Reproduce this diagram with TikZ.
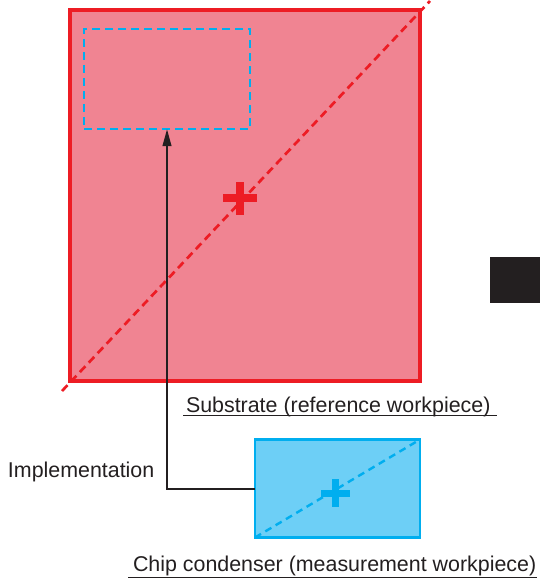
\documentclass[tikz,border=0pt]{standalone}
\usepackage{fontspec}
\setmainfont{Liberation Sans}
\usetikzlibrary{arrows.meta}
\definecolor{redline}{HTML}{ED1C24}
\definecolor{redfill}{HTML}{F08492}
\definecolor{blueline}{HTML}{00AEEF}
\definecolor{bluefill}{HTML}{6DCFF6}
\definecolor{ink}{HTML}{231F20}
\tikzset{
  box/.style={rectangle, inner sep=0pt, outer sep=0pt},
  label text/.style={inner sep=0pt, outer sep=0pt, text=ink, font=\fontsize{21.4}{25}\selectfont},
  underline/.style={draw=ink, line width=1.3pt},
  plusmark/.style={line width=#1, line cap=butt},
}
\begin{document}
\begin{tikzpicture}[x=1pt,y=-1pt]
\useasboundingbox (0,0) rectangle (539,583);
% substrate
\node[box, draw=redline, fill=redfill, line width=4pt, minimum width=350pt, minimum height=371pt] (sub) at (245,195.5) {};
\coordinate (dA) at (62,391);
\coordinate (dB) at (430,1);
\draw[redline, line width=2.7pt, dash pattern=on 8pt off 5pt] (dA) -- (dB);
\draw[redline, plusmark=8pt] (223,198) -- (257,198);
\draw[redline, plusmark=8pt] (240,182) -- (240,215);
% target footprint
\node[box, draw=blueline, line width=2.8pt, dash pattern=on 8pt off 5pt, minimum width=166pt, minimum height=100pt] (tgt) at (167,79) {};
% chip
\node[box, draw=blueline, fill=bluefill, line width=2.2pt, minimum width=165pt, minimum height=98pt] (chip) at (337.5,488.5) {};
\draw[blueline, line width=2.4pt, dash pattern=on 7pt off 5pt] (chip.south west) -- (chip.north east);
\draw[blueline, plusmark=7pt] (321,493) -- (350,493);
\draw[blueline, plusmark=7pt] (335,479) -- (335,507);
% black square
\node[box, fill=ink, minimum width=55pt, minimum height=46pt, anchor=north west] (blk) at (490,257) {};
% connector
\draw[ink, line width=2.3pt, -{Triangle[length=17pt,width=8.5pt]}] (chip.west |- 0,489) -| (tgt.south);
% labels
\node[label text, anchor=base west] (lsub) at (186,412) {Substrate (reference workpiece)};
\draw[underline] (183,415.5) -- (497,415.5);
\node[label text, anchor=base west] (limp) at (8,477) {Implementation};
\node[label text, anchor=base west] (lchip) at (133,571) {Chip condenser (measurement workpiece)};
\draw[underline] (128,577.5) -- (537,577.5);
\end{tikzpicture}
\end{document}
